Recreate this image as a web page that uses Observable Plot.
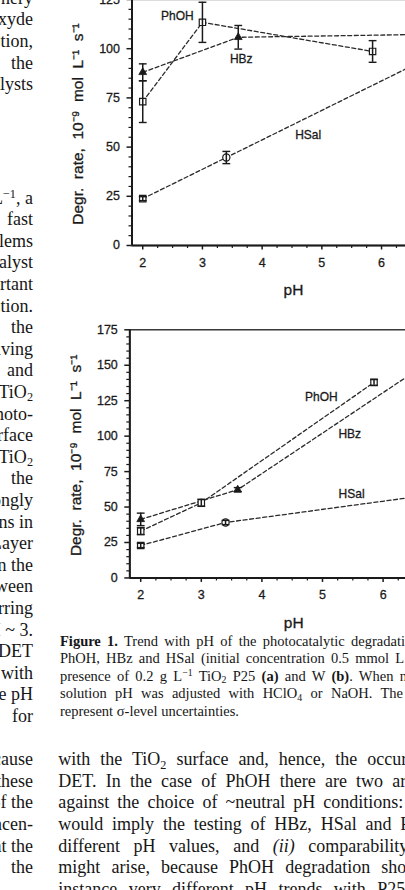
<!DOCTYPE html>
<html><head><meta charset="utf-8">
<script src="https://cdn.jsdelivr.net/npm/d3@7"></script>
<script src="https://cdn.jsdelivr.net/npm/@observablehq/plot@0.6"></script>
<style>
html,body{margin:0;padding:0;background:#fff;}
#page{position:relative;width:405px;height:890px;overflow:hidden;background:#fff;}
.txt{position:absolute;white-space:nowrap;font-family:"Liberation Serif","Times New Roman",serif;color:#161616;}
.txt span{white-space:nowrap;}
.body{font-size:18px;line-height:21.6px;}
.cap{font-size:14.5px;line-height:17.5px;}
.lcol{left:-300px;width:333px;text-align:right;}
sup,sub{font-size:68%;line-height:0;position:relative;vertical-align:baseline;}
sup{top:-0.45em;} sub{top:0.28em;}
svg.chart{position:absolute;left:0;max-width:none !important;}
svg.chart text{stroke:#1a1a1a;stroke-width:0.3px;}
</style></head><body><div id="page"></div>
<script>
// ---------- DATA: panel (a) TiO2 P25 ----------
const pH_a_PhOH = [2, 3, 5.85];
const rate_a_PhOH = [73.1, 113.4, 98.6];
const err_a_PhOH = [10.6, 10.2, 5.5];
const pH_a_HBz = [2, 3.6, 7.0];
const rate_a_HBz = [88.0, 105.8, 107.4];
const err_a_HBz = [4.3, 6.0, 3.0];
const pH_a_HSal = [2, 3.4, 7.0];
const rate_a_HSal = [23.8, 44.7, 98.6];
const err_a_HSal = [1.0, 3.1, 3.0];

// ---------- DATA: panel (b) TiO2 W ----------
const pH_b_PhOH = [2, 3, 5.85];
const rate_b_PhOH = [33.0, 53.0, 137.9];
const err_b_PhOH = [2.5, 2.5, 2.0];
const pH_b_HBz = [2, 3.6, 7.0];
const rate_b_HBz = [41.3, 62.2, 159.2];
const err_b_HBz = [4.4, 1.5, 3.0];
const pH_b_HSal = [2, 3.4, 7.0];
const rate_b_HSal = [22.9, 39.1, 59.9];
const err_b_HSal = [1.5, 1.5, 2.0];

const seriesNames = ["PhOH", "HBz", "HSal"];
const xTickLabels = [2, 3, 4, 5, 6, 7];
const yTicks_a = [0, 25, 50, 75, 100, 125];
const yTicks_b = [0, 25, 50, 75, 100, 125, 150, 175];
const yAxisTitle = "Degr.\u00a0 rate,\u00a0 10\u207b\u2079\u00a0 mol\u00a0 L\u207b\u00b9\u00a0 s\u207b\u00b9";
const xAxisTitle = "pH";

// line label anchors (pH, rate)
const labelText = ["PhOH", "HBz", "HSal"];
const labelPH_a = [2.58, 3.65, 4.77];
const labelRate_a = [116.5, 94.9, 55.9];
const labelPH_b = [4.98, 5.45, 5.48];
const labelRate_b = [127.5, 101.7, 58.9];

// ---------- PAGE TEXT ----------
const leftColTop = ["nery", "oxyde", "tion,", "the", "catalysts"];
const leftColMain = ["L<sup>\u22121</sup>, a", "fast", "problems", "catalyst", "important", "tion.", "the", "involving", "and",
  "TiO<sub>2</sub>", "photo-", "surface", "TiO<sub>2</sub>", "the", "strongly", "tions in", "Layer", "in the", "between",
  "occurring", "pH ~ 3.", "DET", "with", "the pH", "for", "", "because", "these", "of the", "concen-", "at the", "the"];
const captionLines = [
  "<b>Figure 1.</b> Trend with pH of the photocatalytic degradati",
  "PhOH, HBz and HSal (initial concentration 0.5 mmol L",
  "presence of 0.2 g L<sup>\u22121</sup> TiO<sub>2</sub> P25 <b>(a)</b> and W <b>(b)</b>. When n",
  "solution pH was adjusted with HClO<sub>4</sub> or NaOH. The",
  "represent \u03c3-level uncertainties."
];
const bodyLines = [
  "with the TiO<sub>2</sub> surface and, hence, the occur",
  "DET. In the case of PhOH there are two ar",
  "against the choice of ~neutral pH conditions:",
  "would imply the testing of HBz, HSal and P",
  "different pH values, and <i>(ii)</i> comparability",
  "might arise, because PhOH degradation sho",
  "instance very different pH trends with P25"
];

// ---------- LAYOUT ----------
const page = document.getElementById("page");
function addLine(html, cls, left, top) {
  const d = document.createElement("div");
  d.className = "txt " + cls;
  d.style.left = left + "px";
  d.style.top = top + "px";
  d.innerHTML = "<span>" + html + "</span>";
  page.appendChild(d);
  return d;
}
leftColTop.forEach((t, i) => addLine(t, "body lcol", -300, 0 + i * 21.7 - 12.5));
leftColMain.forEach((t, i) => { if (t) addLine(t, "body lcol", -300, 200 + i * 21.6 - 12.5); });

function justify(div, target) {
  const sp = div.querySelector("span");
  const w = sp.getBoundingClientRect().width;
  const n = (sp.textContent.match(/ /g) || []).length;
  if (n) sp.style.wordSpacing = ((target - w) / n) + "px";
}
const capTargets = [345, 344, 347, 343, null];
captionLines.forEach((t, i) => {
  const d = addLine(t, "cap", 60, 643 + i * 17.5 - 10.3);
  if (capTargets[i]) justify(d, capTargets[i]);
});
const bodyTargets = [349, 348, 345, 352, 350, 348, 347];
bodyLines.forEach((t, i) => {
  const d = addLine(t, "body", 58.3, 761.7 + i * 21.6 - 12.5);
  if (bodyTargets[i]) justify(d, bodyTargets[i]);
});

// ---------- CHARTS ----------
const capSymbol = { draw(ctx, size) { const w = Math.sqrt(size / Math.PI); ctx.moveTo(-w, 0); ctx.lineTo(w, 0); } };
function symbolFor(series, i) {
  if (series === "HBz") return "triangle";
  if (series === "HSal") return i === 0 ? "square" : "circle";
  return "square";
}
function rowsOf(pHs, rates, errs) {
  const rows = [];
  seriesNames.forEach((s, k) => {
    pHs[k].forEach((p, i) => rows.push({series: s, pH: p, rate: rates[k][i], lo: rates[k][i] - errs[k][i], hi: rates[k][i] + errs[k][i], symbol: symbolFor(s, i)}));
  });
  return rows;
}
const rows_a = rowsOf([pH_a_PhOH, pH_a_HBz, pH_a_HSal], [rate_a_PhOH, rate_a_HBz, rate_a_HSal], [err_a_PhOH, err_a_HBz, err_a_HSal]);
const rows_b = rowsOf([pH_b_PhOH, pH_b_HBz, pH_b_HSal], [rate_b_PhOH, rate_b_HBz, rate_b_HSal], [err_b_PhOH, err_b_HBz, err_b_HSal]);
const labels_a = labelText.map((t, i) => ({t, pH: labelPH_a[i], rate: labelRate_a[i]}));
const labels_b = labelText.map((t, i) => ({t, pH: labelPH_b[i], rate: labelRate_b[i]}));

const xDomain = [1.82, 7.23];
const ink = "#1a1a1a";
function makeChart(rows, labels, yTicks, o) {
  const yMax = yTicks[yTicks.length - 1];
  const minorX = d3.range(2, 7.25, 0.25).filter(v => Math.abs(v - Math.round(v)) > 1e-6);
  const minorY = d3.range(0, yMax, 5).filter(v => v % 25 !== 0);
  const plotH = yMax * o.pxPerUnit;
  const mr = 10, mb = 60;
  const width = o.ml + (xDomain[1] - xDomain[0]) * o.pxPerPH + mr;
  const height = o.mt + plotH + mb;
  const svg = Plot.plot({
    width, height, marginLeft: o.ml, marginRight: mr, marginTop: o.mt, marginBottom: mb,
    x: {domain: xDomain, label: null},
    y: {domain: [0, yMax], label: null},
    style: {fontFamily: "'Liberation Sans', Arial, sans-serif", fontSize: "12.5px", color: ink, background: "transparent", overflow: "visible", maxWidth: "none"},
    marks: [
      Plot.frame({stroke: ink, strokeWidth: 1.3}),
      Plot.axisY(yTicks, {tickSize: 5, tickPadding: 7, label: null, strokeWidth: 1.5}),
      Plot.axisY(minorY, {tickSize: 3, tickFormat: () => "", label: null, strokeWidth: 1.2}),
      Plot.axisX(xTickLabels, {tickSize: 4.5, tickPadding: 8, label: null, strokeWidth: 1.5}),
      Plot.axisX(minorX, {tickSize: 3, tickFormat: () => "", label: null, strokeWidth: 1.2}),
      Plot.ruleY([0], {stroke: ink, strokeWidth: 2}),
      Plot.ruleX([xDomain[0]], {stroke: ink, strokeWidth: 2}),
      Plot.line(rows, {x: "pH", y: "rate", z: "series", stroke: "#2a2a2a", strokeWidth: 1.3, strokeDasharray: "4,2.6"}),
      Plot.dot(rows.filter(d => d.symbol !== "triangle"), {x: "pH", y: "rate", symbol: "symbol", r: 3.6, fill: "white", stroke: ink, strokeWidth: 1.2}),
      Plot.dot(rows.filter(d => d.symbol === "triangle"), {x: "pH", y: "rate", symbol: "triangle", r: 2.9, fill: ink, stroke: ink, strokeWidth: 0.8}),
      Plot.ruleX(rows, {x: "pH", y1: "lo", y2: "hi", stroke: ink, strokeWidth: 1.5}),
      Plot.dot(rows, {x: "pH", y: "hi", symbol: capSymbol, r: 3.9, stroke: ink, strokeWidth: 1.4}),
      Plot.dot(rows, {x: "pH", y: "lo", symbol: capSymbol, r: 3.9, stroke: ink, strokeWidth: 1.4}),
      Plot.text(labels, {x: "pH", y: "rate", text: "t", fontSize: 12, fill: ink}),
      Plot.text([yAxisTitle], {frameAnchor: "left", textAnchor: "middle", lineAnchor: "middle", rotate: -90, dx: -54, dy: 1.5, fontSize: 15.5, fill: ink, style: "letter-spacing:0.75px"}),
      Plot.text([xAxisTitle], {frameAnchor: "bottom", textAnchor: "middle", lineAnchor: "middle", dy: 45, fontSize: 15.5, fill: ink})
    ]
  });
  svg.classList.add("chart");
  svg.style.top = o.top + "px";
  svg.style.maxWidth = "none";
  svg.style.width = width + "px";
  svg.style.height = height + "px";
  page.appendChild(svg);
}
makeChart(rows_a, labels_a, yTicks_a, {top: -20, mt: 19, ml: 131.5, pxPerPH: 59.7, pxPerUnit: 1.968});
makeChart(rows_b, labels_b, yTicks_b, {top: 310, mt: 19.3, ml: 129.3, pxPerPH: 60.6, pxPerUnit: 1.418});
</script></body></html>
